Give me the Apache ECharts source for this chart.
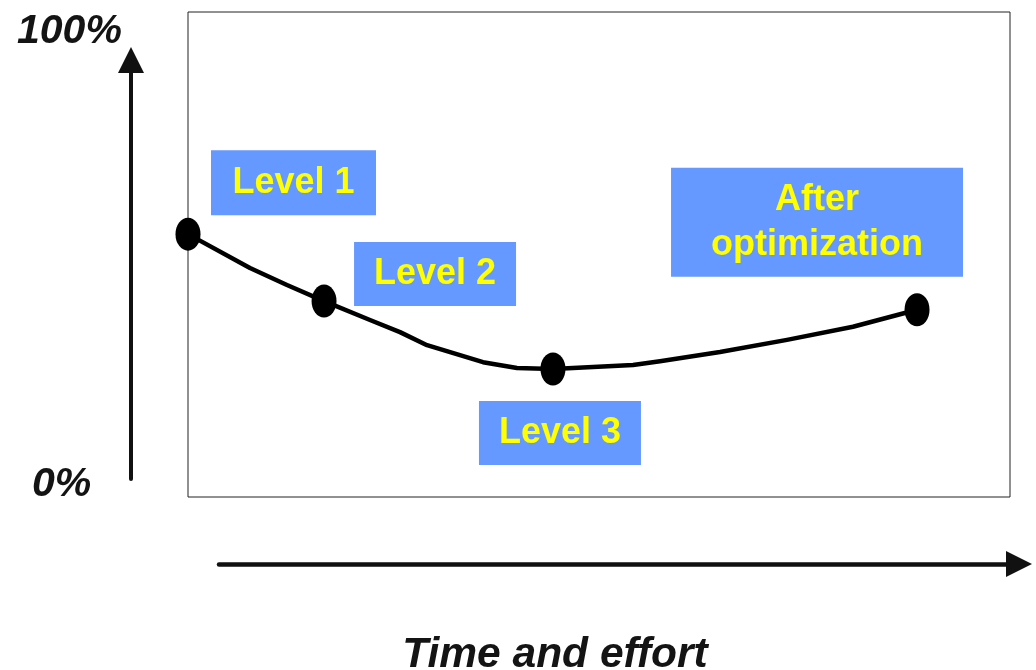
<!DOCTYPE html>
<html>
<head>
<meta charset="utf-8">
<script src="https://cdn.jsdelivr.net/npm/echarts@6/dist/echarts.min.js"></script>
<style>
  html, body { margin: 0; padding: 0; background: #ffffff; }
  #chart { width: 1036px; height: 670px; }
</style>
</head>
<body>
<div id="chart"></div>
<script>
// Stages along the effort curve (x: time/effort share, y: level in %)
const stageNames = ['Level 1', 'Level 2', 'Level 3', 'After\noptimization'];
const stageX = [0, 16.55, 44.4, 88.69];
const stageY = [54.2, 40.4, 26.4, 38.6];

// Bends of the hand-drawn curve between the stages
const bendX = [7.54, 12.04, 22.14, 25.79, 29.08, 35.89, 40.02, 54.14, 57.42, 64.72, 72.87, 80.9];
const bendY = [47.2, 43.7, 36.5, 34.0, 31.3, 27.8, 26.6, 27.2, 28.0, 29.9, 32.4, 35.1];

// Scale ends and axis title
const yTickLabels = ['0%', '100%'];
const xTitle = 'Time and effort';

// Curve vertices: stages and bends merged in x order
const curve = stageX.map((x, i) => [x, stageY[i]])
  .concat(bendX.map((x, i) => [x, bendY[i]]))
  .sort((a, b) => a[0] - b[0]);

// Label box look per stage: offset from the marker, box width, padding, line height
const labelBoxes = [
  { offset: [105.5, -51.5], width: 165, padding: [14.5, 0], lineHeight: 36 },
  { offset: [111, -27], width: 162, padding: [14, 0], lineHeight: 36 },
  { offset: [7, 64], width: 162, padding: [14, 0], lineHeight: 36 },
  { offset: [-100, -87.5], width: 292, padding: [9.5, 0], lineHeight: 45 }
];

const FONT = '"Liberation Sans", Arial, Helvetica, sans-serif';

const stagePoints = stageX.map((x, i) => ({
  value: [x, stageY[i]],
  name: stageNames[i],
  label: {
    offset: labelBoxes[i].offset,
    width: labelBoxes[i].width,
    padding: labelBoxes[i].padding,
    lineHeight: labelBoxes[i].lineHeight
  }
}));

const chart = echarts.init(document.getElementById('chart'), null, { renderer: 'canvas' });

chart.setOption({
  animation: false,
  backgroundColor: '#ffffff',
  grid: [
    // framed plot area
    { left: 188, top: 12, right: 26, bottom: 173, show: true, borderColor: '#222', borderWidth: 1, backgroundColor: 'transparent' },
    // horizontal arrow
    { left: 219, right: 17, top: 563, height: 1 },
    // vertical arrow
    { left: 131, width: 1, top: 60, bottom: 191 }
  ],
  xAxis: [
    { gridIndex: 0, type: 'value', min: 0, max: 100, show: false },
    {
      gridIndex: 1, type: 'value', min: 0, max: 1, position: 'bottom',
      axisLine: { show: true, symbol: ['none', 'triangle'], symbolSize: [26, 26], lineStyle: { color: '#111', width: 4.5 } },
      axisTick: { show: false }, axisLabel: { show: false }, splitLine: { show: false }
    },
    { gridIndex: 2, type: 'value', show: false }
  ],
  yAxis: [
    { gridIndex: 0, type: 'value', min: 0, max: 100, show: false },
    { gridIndex: 1, type: 'value', show: false },
    {
      gridIndex: 2, type: 'value', min: 0, max: 1, position: 'left',
      axisLine: { show: true, symbol: ['none', 'triangle'], symbolSize: [26, 26], lineStyle: { color: '#111', width: 4 } },
      axisTick: { show: false }, axisLabel: { show: false }, splitLine: { show: false }
    }
  ],
  graphic: [
    {
      type: 'text', x: 17, y: 32, silent: true,
      style: { text: yTickLabels[1], font: 'italic bold 41px ' + FONT, fill: '#141414',
        align: 'left', verticalAlign: 'middle', textAlign: 'left', textVerticalAlign: 'middle' }
    },
    {
      type: 'text', x: 32, y: 485, silent: true,
      style: { text: yTickLabels[0], font: 'italic bold 41px ' + FONT, fill: '#141414',
        align: 'left', verticalAlign: 'middle', textAlign: 'left', textVerticalAlign: 'middle' }
    },
    {
      type: 'text', x: 555, y: 655, silent: true,
      style: { text: xTitle, font: 'italic bold 42.5px ' + FONT, fill: '#141414',
        align: 'center', verticalAlign: 'middle', textAlign: 'center', textVerticalAlign: 'middle' }
    }
  ],
  series: [
    {
      type: 'line',
      xAxisIndex: 0, yAxisIndex: 0,
      data: curve,
      symbol: 'none',
      clip: false,
      lineStyle: { color: '#000', width: 4.5, join: 'round', cap: 'round' },
      z: 2
    },
    {
      type: 'scatter',
      xAxisIndex: 0, yAxisIndex: 0,
      data: stagePoints,
      symbol: 'circle',
      symbolSize: [25, 33],
      clip: false,
      itemStyle: { color: '#000', opacity: 1 },
      emphasis: { disabled: true },
      label: {
        show: true,
        position: 'inside',
        formatter: '{b}',
        color: '#FFFF00',
        opacity: 1,
        fontFamily: FONT,
        fontWeight: 'bold',
        fontSize: 36,
        backgroundColor: '#6699FF',
        align: 'center',
        verticalAlign: 'middle'
      },
      z: 3
    }
  ]
});
</script>
</body>
</html>
